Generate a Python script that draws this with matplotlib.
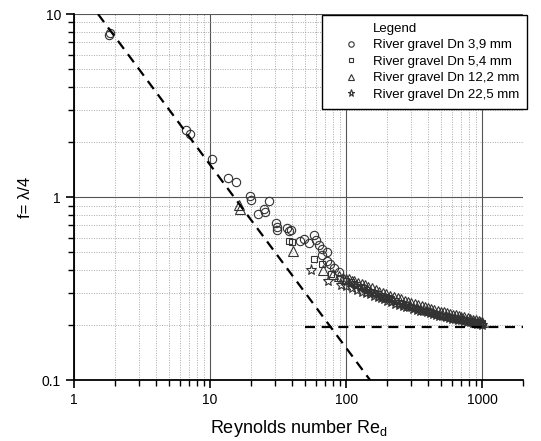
import matplotlib.pyplot as plt
from matplotlib.ticker import LogLocator, NullFormatter, FixedFormatter, FixedLocator

plt.rcParams['font.family'] = ['Liberation Sans', 'DejaVu Sans']
plt.rcParams['mathtext.default'] = 'regular'

# Dn 3,9 mm (circles)
re_39 = [1.8, 1.85, 6.7, 7.1, 10.3, 13.5, 15.4, 19.6, 20.0, 22.6, 25.0, 27.0, 25.3,
         30.5, 30.8, 31.0, 36.8, 38.0, 39.6, 46, 49, 53, 58, 60, 63, 66, 72, 66, 72, 76,
         82, 88]
f_39 = [7.7, 7.85, 2.32, 2.2, 1.61, 1.28, 1.21, 1.01, 0.97, 0.81, 0.86, 0.955, 0.83,
        0.72, 0.66, 0.69, 0.68, 0.65, 0.66, 0.575, 0.59, 0.56, 0.62, 0.58, 0.55, 0.52,
        0.50, 0.48, 0.45, 0.43, 0.41, 0.39]

# Dn 5,4 mm (squares)
re_54 = [38, 40, 58, 66, 78, 90, 100, 108, 115, 120, 128, 135, 142, 150, 160, 170, 182,
         195, 205, 215, 230, 245, 260, 280, 300, 320, 340, 360, 380, 405, 430, 455, 480,
         510, 540, 570, 600, 640, 680, 720, 750, 790, 830, 870, 900, 930, 960, 1000]
f_54 = [0.575, 0.57, 0.46, 0.43, 0.38, 0.36, 0.35, 0.344, 0.335, 0.33, 0.322, 0.318,
        0.31, 0.305, 0.30, 0.296, 0.29, 0.284, 0.28, 0.276, 0.27, 0.265, 0.262, 0.256,
        0.252, 0.248, 0.245, 0.24, 0.238, 0.235, 0.232, 0.229, 0.227, 0.225, 0.222,
        0.22, 0.218, 0.216, 0.215, 0.213, 0.212, 0.21, 0.209, 0.208, 0.207, 0.206,
        0.205, 0.204]

# Dn 12,2 mm (triangles)
re_122 = [16.2, 16.5, 41, 68, 80, 88, 95, 100, 105, 110, 115, 122, 130, 137, 145, 155,
          165, 175, 185, 197, 210, 225, 240, 255, 270, 285, 300, 320, 340, 360, 380, 400,
          420, 445, 470, 495, 520, 550, 580, 610, 640, 670, 700, 740, 780, 820, 860, 900,
          940, 970, 1000]
f_122 = [0.91, 0.86, 0.51, 0.40, 0.38, 0.37, 0.36, 0.358, 0.355, 0.35, 0.347, 0.34,
         0.335, 0.33, 0.322, 0.317, 0.31, 0.305, 0.30, 0.296, 0.29, 0.285, 0.28, 0.276,
         0.272, 0.268, 0.265, 0.262, 0.258, 0.254, 0.25, 0.248, 0.245, 0.242, 0.24,
         0.237, 0.235, 0.232, 0.23, 0.228, 0.226, 0.224, 0.222, 0.22, 0.218, 0.216,
         0.214, 0.212, 0.21, 0.208, 0.207]

# Dn 22,5 mm (stars)
re_225 = [55, 74, 92, 100, 110, 121, 130, 140, 150, 160, 170, 180, 190, 200, 215, 230,
          245, 260, 275, 290, 310, 330, 350, 370, 390, 410, 435, 460, 485, 510, 540, 570,
          600, 630, 665, 700, 735, 770, 810, 850, 885, 920, 960, 1000]
f_225 = [0.40, 0.35, 0.33, 0.325, 0.32, 0.31, 0.305, 0.30, 0.295, 0.29, 0.285, 0.28,
         0.276, 0.27, 0.266, 0.262, 0.258, 0.255, 0.252, 0.25, 0.246, 0.243, 0.24,
         0.238, 0.235, 0.232, 0.23, 0.227, 0.225, 0.223, 0.221, 0.219, 0.217, 0.215,
         0.214, 0.212, 0.21, 0.209, 0.207, 0.206, 0.205, 0.203, 0.202, 0.20]

# reference lines
laminar_re = [1.5, 150]
laminar_f = [10.0, 0.1]
turb_re = [50, 2000]
turb_f = [0.195, 0.195]

fig = plt.figure(figsize=(5.41, 4.41), dpi=100)
ax = fig.add_axes([0.137, 0.138, 0.830, 0.830])

ax.set_xscale('log')
ax.set_yscale('log')
ax.set_xlim(1, 2000)
ax.set_ylim(0.1, 10)

ax.plot(laminar_re, laminar_f, color='black', lw=1.6, ls=(0, (4.5, 3)), zorder=3)
ax.plot(turb_re, turb_f, color='black', lw=1.6, ls=(0, (4.5, 3)), zorder=3)

ax.plot([], [], ' ', label='Legend')
ec = '#333333'
ax.plot(re_39, f_39, 'o', ms=6, mfc='none', mec=ec, mew=0.8, label='River gravel Dn 3,9 mm')
ax.plot(re_54, f_54, 's', ms=5, mfc='none', mec=ec, mew=0.8, label='River gravel Dn 5,4 mm')
ax.plot(re_122, f_122, '^', ms=6.5, mfc='none', mec=ec, mew=0.8, label='River gravel Dn 12,2 mm')
ax.plot(re_225, f_225, '*', ms=8, mfc='none', mec=ec, mew=0.8, label='River gravel Dn 22,5 mm')

ax.xaxis.set_major_locator(FixedLocator([1, 10, 100, 1000]))
ax.xaxis.set_major_formatter(FixedFormatter(['1', '10', '100', '1000']))
ax.yaxis.set_major_locator(FixedLocator([0.1, 1, 10]))
ax.yaxis.set_major_formatter(FixedFormatter(['0.1', '1', '10']))
ax.xaxis.set_minor_locator(LogLocator(base=10, subs=range(2, 10)))
ax.yaxis.set_minor_locator(LogLocator(base=10, subs=range(2, 10)))
ax.xaxis.set_minor_formatter(NullFormatter())
ax.yaxis.set_minor_formatter(NullFormatter())

ax.grid(which='major', color='#555555', lw=0.8, ls='-')
ax.grid(which='minor', color='#aaaaaa', lw=0.7, ls=(0, (1, 1.5)))
ax.set_axisbelow(True)

for s in ['top', 'right']:
    ax.spines[s].set_visible(False)
for s in ['left', 'bottom']:
    ax.spines[s].set_linewidth(1.3)

ax.tick_params(which='major', direction='out', length=6, width=1.2, labelsize=10, colors='black')
ax.tick_params(which='minor', direction='out', length=4, width=1.0)

ax.set_xlabel('Reynolds number Re$_{d}$', fontsize=13, labelpad=8)
ax.set_ylabel('f= λ/4', fontsize=12, labelpad=6)

leg = ax.legend(loc='upper right', bbox_to_anchor=(534 / 541, 1 - 8 / 441),
                bbox_transform=fig.transFigure, fontsize=9.5, frameon=True, fancybox=False,
                edgecolor='black', framealpha=1, markerscale=0.65, handlelength=3.2,
                handletextpad=0.1, borderpad=0.6, labelspacing=0.32)
leg.get_frame().set_linewidth(1.0)

fig.savefig('out.png', dpi=100)
